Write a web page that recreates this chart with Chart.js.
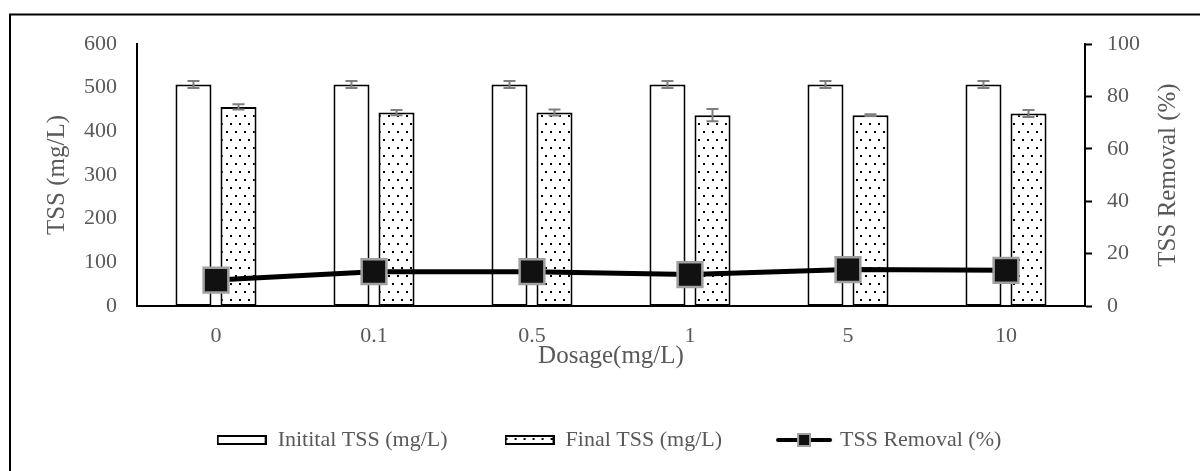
<!DOCTYPE html>
<html>
<head>
<meta charset="utf-8">
<script src="https://cdn.jsdelivr.net/npm/chart.js"></script>
<style>
  html, body { margin: 0; padding: 0; background: #fff; }
  canvas { display: block; }
</style>
</head>
<body>
<canvas id="tssChart" width="1200" height="471"></canvas>
<script>
// data
const dosages = ['0', '0.1', '0.5', '1', '5', '10'];
const initialTss = [507, 507, 507, 507, 507, 507];
const initialErr = [8, 8, 8, 8, 8, 8];
const finalTss = [456, 443, 443, 437, 437, 441];
const finalErr = [6, 6, 7, 14, 2, 8];
const removal = [9.9, 13.1, 13.1, 12.0, 13.9, 13.6];
const legendNames = ['Initital TSS (mg/L)', 'Final TSS (mg/L)', 'TSS Removal (%)'];

const FONT = '"Liberation Serif", "Times New Roman", serif';
const GREY_TEXT = '#595959';

// dotted fill used by the final TSS bars
function makeDotPattern() {
    const c = document.createElement('canvas');
    c.width = 9;
    c.height = 16;
    const g = c.getContext('2d');
    g.fillStyle = '#fff';
    g.fillRect(0, 0, 9, 16);
    g.fillStyle = '#000';
    g.fillRect(1, 3, 2, 2);
    g.fillRect(5, 11, 2, 2);
    return g.createPattern(c, 'repeat');
}

// little pictures for the legend
function makeBoxIcon(fill) {
    const c = document.createElement('canvas');
    c.width = 50;
    c.height = 10;
    const g = c.getContext('2d');
    g.fillStyle = fill;
    g.fillRect(1, 1, 48, 8);
    g.strokeStyle = '#000';
    g.lineWidth = 2;
    g.strokeRect(1, 1, 48, 8);
    return c;
}

function makeLineIcon() {
    const c = document.createElement('canvas');
    c.width = 58;
    c.height = 16;
    const g = c.getContext('2d');
    g.strokeStyle = '#000';
    g.lineWidth = 4;
    g.lineCap = 'round';
    g.beginPath();
    g.moveTo(3, 8);
    g.lineTo(55, 8);
    g.stroke();
    g.fillStyle = '#111';
    g.fillRect(23, 2, 12, 12);
    g.strokeStyle = '#a0a0a0';
    g.lineWidth = 2;
    g.strokeRect(23, 2, 12, 12);
    return c;
}

const dotPattern = makeDotPattern();
const legendIcons = [makeBoxIcon('#fff'), makeBoxIcon(dotPattern), makeLineIcon()];

// error bars on the two bar series
const errorBarPlugin = {
    id: 'errorBars',
    afterDatasetsDraw(chart) {
        const ctx = chart.ctx;
        const yScale = chart.scales.y;
        const sets = [[0, initialErr], [1, finalErr]];
        ctx.save();
        ctx.strokeStyle = '#7f7f7f';
        ctx.lineWidth = 2;
        sets.forEach(([di, errs]) => {
            const meta = chart.getDatasetMeta(di);
            const values = chart.data.datasets[di].data;
            meta.data.forEach((bar, i) => {
                const yTop = yScale.getPixelForValue(values[i] + errs[i]);
                const yBot = yScale.getPixelForValue(values[i] - errs[i]);
                ctx.beginPath();
                ctx.moveTo(bar.x, yTop);
                ctx.lineTo(bar.x, yBot);
                ctx.moveTo(bar.x - 6, yTop);
                ctx.lineTo(bar.x + 6, yTop);
                ctx.moveTo(bar.x - 6, yBot);
                ctx.lineTo(bar.x + 6, yBot);
                ctx.stroke();
            });
        });
        ctx.restore();
    }
};

// outer frame lines and the right axis title (reads bottom to top)
const framePlugin = {
    id: 'frame',
    afterDraw(chart) {
        const ctx = chart.ctx;
        const area = chart.chartArea;
        ctx.save();
        ctx.strokeStyle = '#000';
        ctx.lineWidth = 2;
        ctx.beginPath();
        ctx.moveTo(10, 471);
        ctx.lineTo(10, 14.5);
        ctx.lineTo(1200, 14.5);
        ctx.stroke();

        ctx.translate(1168, (area.top + area.bottom) / 2);
        ctx.rotate(-Math.PI / 2);
        ctx.fillStyle = GREY_TEXT;
        ctx.font = '25px ' + FONT;
        ctx.textAlign = 'center';
        ctx.textBaseline = 'middle';
        ctx.fillText('TSS Removal (%)', 0, 0);
        ctx.restore();
    }
};

function initChart() {
    const ctx = document.getElementById('tssChart');
    new Chart(ctx, {
        type: 'bar',
        data: {
            labels: dosages,
            datasets: [
                {
                    label: legendNames[0],
                    data: initialTss,
                    backgroundColor: '#fff',
                    borderColor: '#000',
                    borderWidth: 2,
                    borderSkipped: false,
                    yAxisID: 'y',
                    order: 2
                },
                {
                    label: legendNames[1],
                    data: finalTss,
                    backgroundColor: dotPattern,
                    borderColor: '#000',
                    borderWidth: 2,
                    borderSkipped: false,
                    yAxisID: 'y',
                    order: 2
                },
                {
                    type: 'line',
                    label: legendNames[2],
                    data: removal,
                    borderColor: '#000',
                    borderWidth: 5,
                    pointStyle: 'rect',
                    pointRadius: 17.5,
                    pointBackgroundColor: '#111',
                    pointBorderColor: '#a0a0a0',
                    pointBorderWidth: 2.5,
                    tension: 0,
                    yAxisID: 'y1',
                    order: 0
                }
            ]
        },
        options: {
            responsive: false,
            animation: false,
            events: [],
            categoryPercentage: 0.57,
            barPercentage: 0.8,
            layout: {
                padding: { top: 44, left: 18, right: 0, bottom: 10 }
            },
            plugins: {
                tooltip: { enabled: false },
                legend: {
                    position: 'bottom',
                    labels: {
                        usePointStyle: true,
                        pointStyleWidth: 50,
                        padding: 57,
                        color: GREY_TEXT,
                        font: { family: FONT, size: 22 },
                        generateLabels: () => legendNames.map((name, i) => ({
                            text: name,
                            pointStyle: legendIcons[i],
                            datasetIndex: i,
                            hidden: false,
                            lineWidth: 0,
                            fontColor: GREY_TEXT
                        }))
                    }
                }
            },
            scales: {
                x: {
                    grid: { display: false, drawTicks: false },
                    border: { display: true, color: '#000', width: 2 },
                    ticks: {
                        color: GREY_TEXT,
                        font: { family: FONT, size: 22 },
                        padding: 17
                    },
                    title: {
                        display: true,
                        text: 'Dosage(mg/L)',
                        color: GREY_TEXT,
                        font: { family: FONT, size: 25 },
                        padding: { top: 0, bottom: 1 }
                    },
                    afterFit: (scale) => { scale.height = 66; }
                },
                y: {
                    position: 'left',
                    min: 0,
                    max: 600,
                    grid: { display: false, drawTicks: false },
                    border: { display: true, color: '#000', width: 2 },
                    ticks: {
                        stepSize: 100,
                        color: GREY_TEXT,
                        font: { family: FONT, size: 22 },
                        padding: 20
                    },
                    title: {
                        display: true,
                        text: 'TSS (mg/L)',
                        color: GREY_TEXT,
                        font: { family: FONT, size: 25 },
                        padding: { top: 24, bottom: 0 }
                    },
                    afterFit: (scale) => { scale.width = 119; }
                },
                y1: {
                    position: 'right',
                    min: 0,
                    max: 100,
                    grid: {
                        display: true,
                        drawOnChartArea: false,
                        drawTicks: true,
                        tickLength: 7,
                        tickColor: '#000',
                        tickWidth: 2
                    },
                    border: { display: true, color: '#000', width: 2 },
                    ticks: {
                        stepSize: 20,
                        color: GREY_TEXT,
                        font: { family: FONT, size: 22 },
                        padding: 15
                    },
                    afterFit: (scale) => { scale.width = 115; }
                }
            }
        },
        plugins: [errorBarPlugin, framePlugin]
    });
}

if (document.readyState === 'loading') {
    document.addEventListener('DOMContentLoaded', initChart);
} else {
    initChart();
}
</script>
</body>
</html>
